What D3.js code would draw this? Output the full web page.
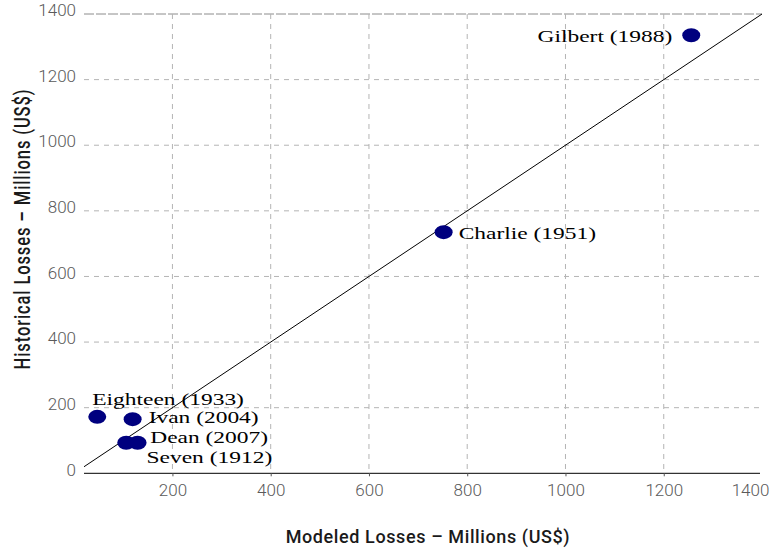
<!DOCTYPE html>
<html><head><meta charset="utf-8">
<script src="https://cdn.jsdelivr.net/npm/d3@7"></script>
<style>
body{margin:0;background:#fff;}
svg{display:block;}
</style></head>
<body>
<svg id="chart" width="770" height="548"></svg>
<script>
// ---- data ----
const names = ["Gilbert (1988)", "Charlie (1951)", "Eighteen (1933)", "Ivan (2004)", "Dean (2007)", "Seven (1912)"];
const modeled = [1256, 752, 47, 119, 106, 129];
const historical = [1335, 735, 172, 165, 93, 93];
const xTicks = [200, 400, 600, 800, 1000, 1200, 1400];
const yTicks = [0, 200, 400, 600, 800, 1000, 1200, 1400];
const xTitle = "Modeled Losses – Millions (US$)";
const yTitle = "Historical Losses – Millions (US$)";

// label layout (offsets from point, px) and anchor
const labelDx = [-19, 15, -5, 16, 24, 9];
const labelDy = [6.5, 7, -12, 4, 0, 20];
const labelAnchor = ["end", "start", "start", "start", "start", "start"];

const svg = d3.select("#chart");
const pL = 84, pR = 762, pT = 14, pB = 473.3;
const x = d3.scaleLinear().domain([20, 1400]).range([pL, pR]);
const y = d3.scaleLinear().domain([0, 1400]).range([pB, pT]);
const fmt = d3.format("d");

// gridlines
svg.append("g").selectAll("line").data(yTicks.filter(d => d > 0 && d < 1400)).join("line")
  .attr("x1", pL).attr("x2", 760).attr("y1", d => y(d)).attr("y2", d => y(d))
  .attr("stroke", "#b4b4b4").attr("stroke-width", 1).attr("stroke-dasharray", "5,5");
svg.append("line").attr("x1", pL).attr("x2", 762).attr("y1", y(1400)).attr("y2", y(1400))
  .attr("stroke", "#8c8c8c").attr("stroke-width", 1).attr("stroke-dasharray", "10,2");
svg.append("g").selectAll("line").data(xTicks.filter(d => d < 1400)).join("line")
  .attr("x1", d => x(d)).attr("x2", d => x(d)).attr("y1", pT).attr("y2", pB)
  .attr("stroke", "#b4b4b4").attr("stroke-width", 1).attr("stroke-dasharray", "5,5");

// x axis
const xAxis = svg.append("g").attr("transform", `translate(0,${pB})`)
  .call(d3.axisBottom(x).tickValues(xTicks).tickFormat(fmt).tickSize(3).tickSizeOuter(0).tickPadding(8));
xAxis.select(".domain").attr("stroke", "#000").attr("d", `M${pL},0H760`);
xAxis.selectAll(".tick line").attr("stroke", "#555");
xAxis.selectAll(".tick text").attr("fill", "#5a5a5a")
  .style("font-family", "Roboto, sans-serif").style("font-weight", "300").style("font-size", "17px");
xAxis.selectAll(".tick").filter(d => d === 1400).select("text").attr("dx", -12);
xAxis.selectAll(".tick").filter(d => d === 1400).select("line").remove();

// y axis
const yAxis = svg.append("g").attr("transform", `translate(${pL},0)`)
  .call(d3.axisLeft(y).tickValues(yTicks).tickFormat(fmt).tickSize(0).tickPadding(8));
yAxis.select(".domain").remove();
yAxis.selectAll(".tick text").attr("fill", "#5a5a5a").attr("dy", "0.1em")
  .style("font-family", "Roboto, sans-serif").style("font-weight", "300").style("font-size", "17px");

// diagonal y = x
svg.append("line")
  .attr("x1", x(20)).attr("y1", y(20)).attr("x2", x(1400)).attr("y2", y(1400))
  .attr("stroke", "#000").attr("stroke-width", 1);

// points
const idx = d3.range(names.length);
svg.append("g").selectAll("ellipse").data(idx).join("ellipse")
  .attr("cx", i => x(modeled[i])).attr("cy", i => y(historical[i]))
  .attr("rx", 9).attr("ry", 7).attr("fill", "#00007f");

// labels
svg.append("g").selectAll("text").data(idx).join("text")
  .attr("transform", i => `translate(${x(modeled[i]) + labelDx[i]},${y(historical[i]) + labelDy[i]}) scale(1.38,1)`)
  .attr("text-anchor", i => labelAnchor[i])
  .style("font-family", "'Liberation Serif', 'Times New Roman', serif").style("font-size", "17px")
  .attr("fill", "#000").text(i => names[i]);

// titles
svg.append("text").attr("x", 428).attr("y", 543).attr("text-anchor", "middle")
  .style("font-family", "Roboto, sans-serif").style("font-weight", "500").style("font-size", "18px")
  .style("letter-spacing", "0.6px")
  .attr("fill", "#1a1a1a").text(xTitle);
svg.append("text").attr("transform", "translate(30,229) rotate(-90) scale(1,1.3)").attr("text-anchor", "middle")
  .style("font-family", "Roboto, sans-serif").style("font-weight", "500").style("font-size", "16.5px")
  .style("letter-spacing", "0.9px")
  .attr("fill", "#1a1a1a").text(yTitle);
</script>
</body></html>
